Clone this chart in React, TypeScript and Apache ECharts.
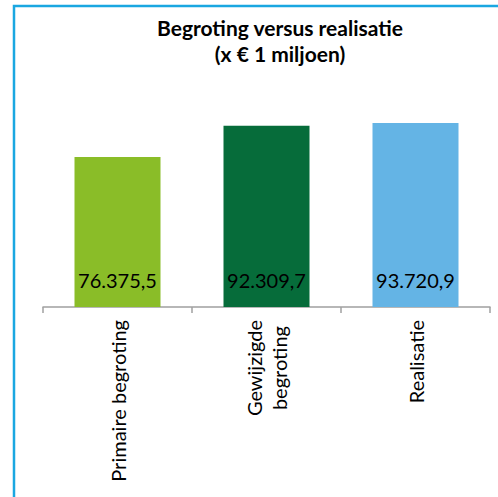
import React, { useEffect, useRef } from "react";
import * as echarts from "echarts";

const categories = ["Primaire begroting", "Gewijzigde\nbegroting", "Realisatie"];
const values = [76375.5, 92309.7, 93720.9];
const barColors = ["#8abd28", "#066c3a", "#64b4e5"];
const titleLines = ["Begroting versus realisatie", "(x € 1 miljoen)"];

const fmt = (v: number) => {
  const [i, d] = v.toFixed(1).split(".");
  return i.replace(/\B(?=(\d{3})+(?!\d))/g, ".") + "," + d;
};

export default function App() {
  const ref = useRef<HTMLDivElement>(null);
  useEffect(() => {
    const chart = echarts.init(ref.current!, null, { renderer: "svg" });
    chart.setOption({
      animation: false,
      title: {
        text: titleLines.join("\n"),
        left: 280,
        top: 14,
        padding: 0,
        textAlign: "center",
        textStyle: {
          fontFamily: "Lato",
          fontWeight: "bold",
          fontSize: 21,
          lineHeight: 26,
          color: "#000",
        },
      },
      graphic: [
        {
          type: "rect",
          shape: { x: 14, y: 6, width: 700, height: 700 },
          style: { fill: "none", stroke: "#1aa7e1", lineWidth: 2.5 },
          silent: true,
        },
      ],
      grid: { left: 43, right: 8, top: 91, bottom: 190 },
      xAxis: {
        type: "category",
        data: categories,
        axisLine: { lineStyle: { color: "#a0a0a0", width: 1.5 } },
        axisTick: { show: true, length: 6, lineStyle: { color: "#a0a0a0", width: 1.5 } },
        axisLabel: {
          rotate: 90,
          margin: 13,
          interval: 0,
          formatter: (v: string) => v.split("\n").map((s) => "{c|" + s + "}").join("\n"),
          rich: {
            c: {
              align: "center",
              fontFamily: "Lato",
              fontSize: 20,
              lineHeight: 25,
              color: "#000",
            },
          },
        },
      },
      yAxis: {
        type: "value",
        min: 0,
        max: 110000,
        show: false,
        splitLine: { show: false },
      },
      series: [
        {
          type: "bar",
          barWidth: 86,
          data: values.map((v, i) => ({ value: v, itemStyle: { color: barColors[i] } })),
          label: {
            show: true,
            position: "insideBottom",
            distance: 17,
            formatter: (p: any) => fmt(p.value),
            fontFamily: "Lato",
            fontSize: 20,
            color: "#000",
          },
        },
      ],
    });
    return () => chart.dispose();
  }, []);
  return (
    <div
      ref={ref}
      style={{ position: "fixed", left: 0, top: 0, width: 498, height: 497, background: "#fff" }}
    />
  );
}
